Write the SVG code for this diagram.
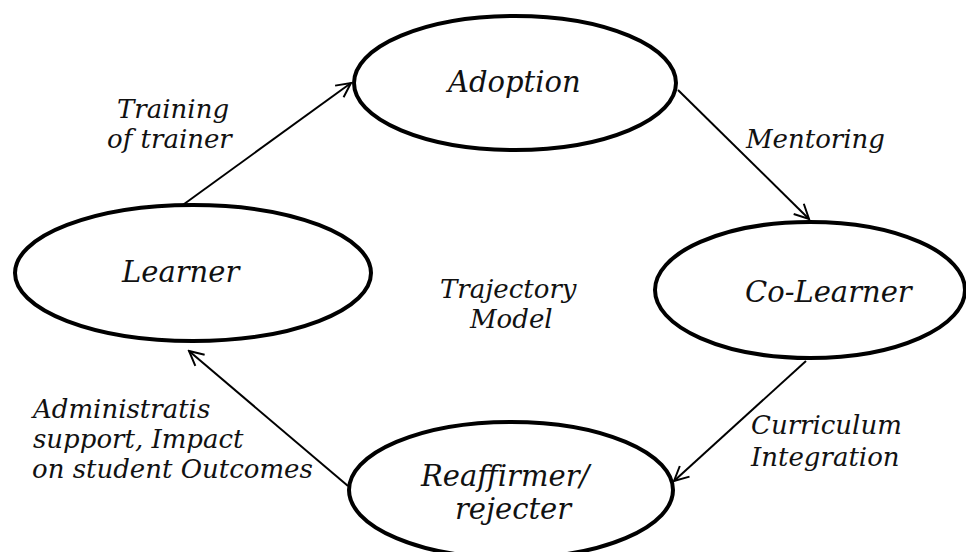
<svg xmlns="http://www.w3.org/2000/svg" width="966" height="552" viewBox="0 0 966 552">
<style>
.node{fill:#fff;stroke:#000;stroke-width:4}
.t{font-family:"DejaVu Serif","Liberation Serif",serif;font-style:italic;fill:#111}
.n{font-size:29px}
.l{font-size:26px}
.c{fill:none;stroke:#000;stroke-width:2}
</style>
<defs>
<marker id="ah" viewBox="0 0 20 20" refX="18" refY="10" markerWidth="18" markerHeight="18" markerUnits="userSpaceOnUse" orient="auto">
<path d="M2,2 L18,10 L2,18" fill="none" stroke="#000" stroke-width="2.2"/>
</marker>
</defs>
<rect width="966" height="552" fill="#fff"/>
<g id="connectors">
<line class="c" x1="180" y1="207" x2="351" y2="83" marker-end="url(#ah)"/>
<line class="c" x1="678" y1="90" x2="809" y2="219" marker-end="url(#ah)"/>
<line class="c" x1="806" y1="361" x2="674" y2="481" marker-end="url(#ah)"/>
<line class="c" x1="348" y1="486" x2="189" y2="351" marker-end="url(#ah)"/>
</g>
<g id="adoption">
<ellipse class="node" cx="515" cy="83" rx="161" ry="67"/>
<text class="t n" x="448" y="92">Adoption</text>
</g>
<g id="learner">
<ellipse class="node" cx="193" cy="273" rx="178" ry="68"/>
<text class="t n" x="122" y="282">Learner</text>
</g>
<g id="co-learner">
<ellipse class="node" cx="810" cy="290" rx="155" ry="68"/>
<text class="t n" x="745" y="302">Co-Learner</text>
</g>
<g id="reaffirmer">
<ellipse class="node" cx="511" cy="490" rx="162" ry="68"/>
<text class="t n" x="421" y="486">Reaffirmer/</text>
<text class="t n" x="455" y="519">rejecter</text>
</g>
<g id="labels">
<text class="t l" x="117" y="118">Training</text>
<text class="t l" x="107" y="148">of trainer</text>
<text class="t l" x="746" y="148">Mentoring</text>
<text class="t l" x="440" y="298">Trajectory</text>
<text class="t l" x="470" y="328">Model</text>
<text class="t l" x="751" y="434">Curriculum</text>
<text class="t l" x="751" y="466">Integration</text>
<text class="t l" x="33" y="418">Administratis</text>
<text class="t l" x="33" y="448">support, Impact</text>
<text class="t l" x="32" y="478">on student Outcomes</text>
</g>
</svg>
